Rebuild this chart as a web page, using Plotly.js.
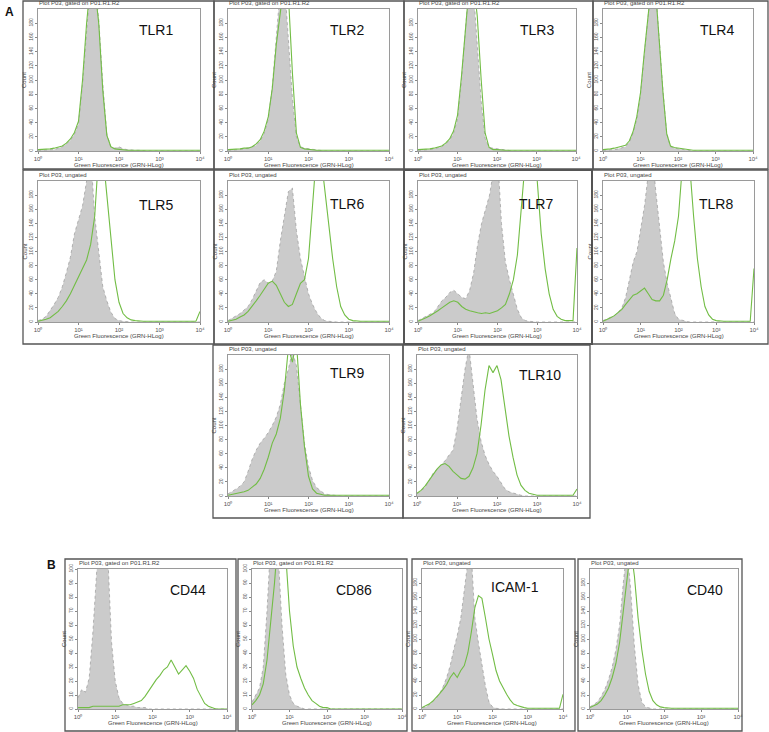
<!DOCTYPE html>
<html>
<head>
<meta charset="utf-8">
<script src="https://cdn.plot.ly/plotly-3.0.1.min.js"></script>
<style>html,body{margin:0;padding:0;background:#fff;}#chart{width:769px;height:732px;}</style>
</head>
<body>
<div id="chart"></div>
<script>
// Fluorescence bins (log10 of Green Fluorescence, GRN-HLog)
const LOG_BINS = [0.0,0.1,0.2,0.3,0.4,0.5,0.6,0.7,0.8,0.9,1.0,1.1,1.2,1.3,1.4,1.5,1.6,1.7,1.8,1.9,2.0,2.1,2.2,2.3,2.4,2.5,2.6,2.7,2.8,2.9,3.0,3.1,3.2,3.3,3.4,3.5,3.6,3.7,3.8,3.9,4.0];

// Counts: grey = isotype control, green = stained
const TLR1_GREY  = [1,1,1,2,2,4,6,10,15,24, 38,95,172,240,240,185,95,24,5,4, 6,3,2,1,1,1,0,0,0,0, 0,0,0,0,0,0,0,0,0,0, 0];
const TLR1_GREEN = [2,2,3,3,4,5,7,11,17,26, 42,100,180,240,232,180,85,22,6,3, 2,2,1,1,1,1,1,1,1,1, 1,1,1,1,1,1,1,1,1,1, 1];
const TLR2_GREY  = [1,1,1,2,3,4,6,8,14,25, 45,90,165,230,240,160,75,20,6,4, 3,2,1,1,0,0,0,0,0,0, 0,0,0,0,0,0,0,0,0,0, 0];
const TLR2_GREEN = [2,2,3,3,4,4,6,10,16,28, 48,88,150,210,240,220,110,25,5,3, 2,2,1,1,1,1,1,1,1,1, 1,1,1,1,1,1,1,1,1,1, 1];
const TLR3_GREY  = [1,1,1,2,3,4,6,10,15,25, 45,100,175,240,230,150,70,18,5,4, 3,2,1,1,0,0,0,0,0,0, 0,0,0,0,0,0,0,0,0,0, 0];
const TLR3_GREEN = [2,2,2,3,4,5,7,11,17,28, 50,105,175,235,240,190,100,25,5,2, 2,1,1,1,1,1,1,1,1,1, 1,1,1,1,1,1,1,1,1,1, 1];
const TLR4_GREY  = [1,1,2,2,3,4,6,12,25,45, 80,135,190,240,230,150,85,25,6,4, 3,2,1,1,0,0,0,0,0,0, 0,0,0,0,0,0,0,0,0,0, 0];
const TLR4_GREEN = [2,2,3,4,5,6,8,14,27,48, 82,138,192,240,228,148,82,24,7,5, 4,3,2,1,1,1,1,1,1,1, 1,1,1,1,1,1,1,1,1,1, 1];
const TLR5_GREY  = [2,4,8,16,25,35,50,70,92,125, 145,165,200,240,150,95,50,30,14,5, 2,1,0,0,0,0,0,0,0,0, 0,0,0,0,0,0,0,0,0,0, 0];
const TLR5_GREEN = [1,2,4,6,10,15,22,30,40,52, 65,78,88,110,150,240,240,180,120,60, 28,12,6,3,2,1,1,1,1,1, 1,1,1,1,1,1,1,1,1,1, 15];
const TLR6_GREY  = [2,5,8,12,17,22,32,45,56,60, 55,58,72,115,150,185,190,130,90,65, 40,25,14,6,2,1,0,0,0,0, 0,0,0,0,0,0,0,0,0,0, 0];
const TLR6_GREEN = [1,2,4,7,10,15,22,30,38,46, 55,58,52,40,28,22,25,40,55,60, 90,165,240,240,190,140,90,50,22,10, 4,2,1,1,1,1,1,1,1,1, 1];
const TLR7_GREY  = [2,5,8,11,14,22,30,35,42,45, 40,35,33,45,70,110,140,160,180,215, 240,140,85,60,38,18,6,2,1,0, 0,0,0,0,0,0,0,0,0,0, 0];
const TLR7_GREEN = [1,3,6,9,12,16,20,24,28,30, 28,22,18,16,14,13,12,13,12,14, 16,20,25,40,60,95,160,230,240,240, 200,125,75,40,18,8,4,2,2,2, 105];
const TLR8_GREY  = [2,4,6,9,14,20,35,62,85,100, 130,165,210,240,185,130,85,55,32,12, 4,2,1,0,0,0,0,0,0,0, 0,0,0,0,0,0,0,0,0,0, 0];
const TLR8_GREEN = [1,3,6,9,13,18,25,32,38,40, 44,48,40,32,30,30,38,60,90,115, 150,220,240,220,150,90,50,22,10,4, 2,1,1,1,1,1,1,1,1,1, 76];
const TLR9_GREY  = [3,6,10,14,20,35,52,65,75,82, 90,100,112,130,160,180,205,185,130,75, 42,22,12,7,3,2,1,0,0,0, 0,0,0,0,0,0,0,0,0,0, 0];
const TLR9_GREEN = [1,2,3,4,6,8,12,17,25,38, 55,75,88,110,150,210,190,220,130,70, 28,10,4,2,1,1,1,1,1,1, 1,1,1,1,1,1,1,1,1,1, 1];
const TLR10_GREY  = [3,7,12,22,32,38,44,50,58,65, 95,135,180,210,160,110,78,58,45,35, 28,18,10,6,4,2,1,0,0,0, 0,0,0,0,0,0,0,0,0,0, 0];
const TLR10_GREEN = [4,8,14,22,30,38,44,46,42,35, 30,25,24,28,40,60,100,150,185,175, 185,165,125,85,55,30,15,8,4,2, 1,1,1,1,1,1,1,1,1,1, 10];
const CD44_GREY  = [8,14,12,22,55,95,140,130,110,48, 20,8,4,3,2,2,1,1,1,0, 0,0,0,0,0,0,0,0,0,0, 0,0,0,0,0,0,0,0,0,0, 0];
const CD44_GREEN = [1,1,1,1,2,2,2,2,2,2, 2,2,3,3,3,4,5,6,9,13, 17,21,24,28,30,35,30,25,28,31, 27,22,14,9,4,2,1,0,0,0, 0];
const CD86_GREY  = [5,10,15,30,70,120,130,110,60,25, 10,4,2,1,0,0,0,0,0,0, 0,0,0,0,0,0,0,0,0,0, 0,0,0,0,0,0,0,0,0,0, 0];
const CD86_GREEN = [3,6,10,18,35,60,90,125,130,110, 70,45,30,22,15,10,6,4,2,1, 1,0,0,0,0,0,0,0,0,0, 0,0,0,0,0,0,0,0,0,0, 0];
const ICAM1_GREY  = [2,3,6,10,15,22,32,45,62,85, 105,130,165,210,220,130,95,65,33,10, 3,1,0,0,0,0,0,0,0,0, 0,0,0,0,0,0,0,0,0,0, 0];
const ICAM1_GREEN = [2,4,7,11,16,22,28,35,45,52, 45,55,62,80,110,145,162,158,130,100, 78,55,40,30,21,13,7,5,3,2, 1,1,1,1,1,1,1,1,1,1, 21];
const CD40_GREY  = [3,6,10,18,28,42,60,85,120,180, 230,170,90,35,10,3,1,0,0,0, 0,0,0,0,0,0,0,0,0,0, 0,0,0,0,0,0,0,0,0,0, 0];
const CD40_GREEN = [2,4,7,12,20,30,45,65,95,140, 200,230,190,130,85,50,25,12,6,3, 2,1,1,1,1,1,1,1,1,1, 1,1,1,1,1,1,1,1,1,1, 1];

const PANEL_LABELS = ['TLR1','TLR2','TLR3','TLR4','TLR5','TLR6','TLR7','TLR8','TLR9','TLR10','CD44','CD86','ICAM-1','CD40'];
const HEADER_GATED = 'Plot P03, gated on P01.R1.R2';
const HEADER_UNGATED = 'Plot P03, ungated';
const X_TICK_TEXT = ['10\u2070','10\u00B9','10\u00B2','10\u00B3','10\u2074'];
const X_TITLE = 'Green Fluorescence (GRN-HLog)';
const Y_TITLE = 'Count';
const Y_TICKS_200 = [0,20,40,60,80,100,120,140,160,180];
const Y_TICKS_100 = [0,10,20,30,40,50,60,70,80,90,100];

const SERIES = [
  [TLR1_GREY,TLR1_GREEN],[TLR2_GREY,TLR2_GREEN],[TLR3_GREY,TLR3_GREEN],[TLR4_GREY,TLR4_GREEN],
  [TLR5_GREY,TLR5_GREEN],[TLR6_GREY,TLR6_GREEN],[TLR7_GREY,TLR7_GREEN],[TLR8_GREY,TLR8_GREEN],
  [TLR9_GREY,TLR9_GREEN],[TLR10_GREY,TLR10_GREEN],
  [CD44_GREY,CD44_GREEN],[CD86_GREY,CD86_GREEN],[ICAM1_GREY,ICAM1_GREEN],[CD40_GREY,CD40_GREEN]
];
const GATED = [true,true,true,true,false,false,false,false,false,false,true,true,false,false];
const Y_MAX = [200,200,200,200,200,200,200,200,200,200,100,100,200,200];

// ---- layout geometry (pixels) ----
const W = 769, H = 732;
const PLOT_RECTS = [
  [38,9,200,151],[228,9,389,151],[418,9,576,151],[603,9,753,151],
  [38,181,200,322],[228,181,389,322],[418,181,577,322],[603,181,754,322],
  [228,355,389,496],[417,355,577,496],
  [78,569,227,709],[252,569,402,709],[422,569,563,709],[590,569,738,709]
];
const BOX_RECTS = [
  [23,1,214,169],[214,1,404,169],[404,1,593,169],[593,1,768,169],
  [23,170,214,344],[214,170,404,344],[404,170,592,344],[592,170,768,344],
  [213,345,403,518],[403,345,590,518],
  [65,559,236,731],[238,559,407,731],[412,559,575,731],[578,559,742,731]
];
const LABEL_POS = [
  [0.73,0.15],[0.74,0.15],[0.75,0.15],[0.76,0.15],
  [0.73,0.17],[0.74,0.16],[0.74,0.16],[0.75,0.16],
  [0.74,0.13],[0.77,0.14],
  [0.74,0.15],[0.68,0.15],[0.66,0.13],[0.78,0.15]
];

const px = x => x / W;
const py = y => 1 - y / H;
const FONT = 'Liberation Sans, Arial, sans-serif';
const xVals = LOG_BINS.map(v => Math.pow(10, v));
const SMALL = 6;

const traces = [];
const layout = {
  width: W, height: H,
  margin: {l:0, r:0, t:0, b:0},
  paper_bgcolor: '#fff', plot_bgcolor: '#fff',
  showlegend: false,
  font: {family: FONT, color: '#444', size: SMALL},
  annotations: [], shapes: []
};

SERIES.forEach((pair, i) => {
  const n = i === 0 ? '' : String(i + 1);
  const [l, t, r, b] = PLOT_RECTS[i];
  traces.push({
    x: xVals, y: pair[0], xaxis: 'x' + n, yaxis: 'y' + n,
    type: 'scatter', mode: 'lines', fill: 'tozeroy',
    fillcolor: '#cbcbcb', line: {color: '#9a9a9a', width: 0.7, dash: 'dot'},
    hoverinfo: 'skip'
  });
  traces.push({
    x: xVals, y: pair[1], xaxis: 'x' + n, yaxis: 'y' + n,
    type: 'scatter', mode: 'lines',
    line: {color: '#72bd45', width: 1.1},
    hoverinfo: 'skip'
  });
  const yt = Y_MAX[i] === 100 ? Y_TICKS_100 : Y_TICKS_200;
  layout['xaxis' + n] = {
    domain: [px(l), px(r)], anchor: 'y' + n, type: 'log', range: [0, 4],
    tickvals: [1,10,100,1000,10000], ticktext: X_TICK_TEXT,
    tickfont: {size: SMALL, color: '#555', family: FONT},
    ticks: 'outside', ticklen: 2, tickcolor: '#888',
    showline: true, mirror: true, linecolor: '#9a9a9a', linewidth: 1,
    showgrid: false, zeroline: false, fixedrange: true
  };
  layout['yaxis' + n] = {
    domain: [py(b), py(t)], anchor: 'x' + n, range: [0, Y_MAX[i]],
    tickvals: yt, ticktext: yt.map(String), tickangle: -90,
    tickfont: {size: 5, color: '#555', family: FONT},
    ticks: 'outside', ticklen: 2, tickcolor: '#888',
    showline: true, mirror: true, linecolor: '#9a9a9a', linewidth: 1,
    showgrid: false, zeroline: false, fixedrange: true
  };
  layout.annotations.push({
    xref: 'paper', yref: 'paper', x: px(l - 1), y: py(t - 1), xanchor: 'left', yanchor: 'bottom',
    text: GATED[i] ? HEADER_GATED : HEADER_UNGATED, showarrow: false,
    font: {size: SMALL, color: '#444', family: FONT}
  });
  layout.annotations.push({
    xref: 'paper', yref: 'paper', x: px(l - 14), y: py((t + b) / 2), xanchor: 'center', yanchor: 'middle',
    text: Y_TITLE, textangle: -90, showarrow: false,
    font: {size: SMALL, color: '#444', family: FONT}
  });
  layout.annotations.push({
    xref: 'paper', yref: 'paper', x: px((l + r) / 2), y: py(b + 14), xanchor: 'center', yanchor: 'middle',
    text: X_TITLE, showarrow: false,
    font: {size: SMALL, color: '#444', family: FONT}
  });
  layout.annotations.push({
    xref: 'paper', yref: 'paper',
    x: px(l + LABEL_POS[i][0] * (r - l)), y: py(t + LABEL_POS[i][1] * (b - t)),
    xanchor: 'center', yanchor: 'middle',
    text: PANEL_LABELS[i], showarrow: false,
    font: {size: 14, color: '#111', family: FONT}
  });
  const [bl, bt, br, bb] = BOX_RECTS[i];
  layout.shapes.push({
    type: 'rect', xref: 'paper', yref: 'paper',
    x0: px(bl), x1: px(br), y0: py(bb), y1: py(bt),
    line: {color: '#555', width: i === 6 ? 2 : 1.3}, fillcolor: 'rgba(0,0,0,0)'
  });
});

layout.annotations.push({xref:'paper', yref:'paper', x: px(9), y: py(12), xanchor:'center', yanchor:'middle',
  text:'<b>A</b>', showarrow:false, font:{size:12, color:'#111', family: FONT}});
layout.annotations.push({xref:'paper', yref:'paper', x: px(51), y: py(565), xanchor:'center', yanchor:'middle',
  text:'<b>B</b>', showarrow:false, font:{size:12, color:'#111', family: FONT}});

Plotly.newPlot('chart', traces, layout, {staticPlot: true, displayModeBar: false});
</script>
</body>
</html>
